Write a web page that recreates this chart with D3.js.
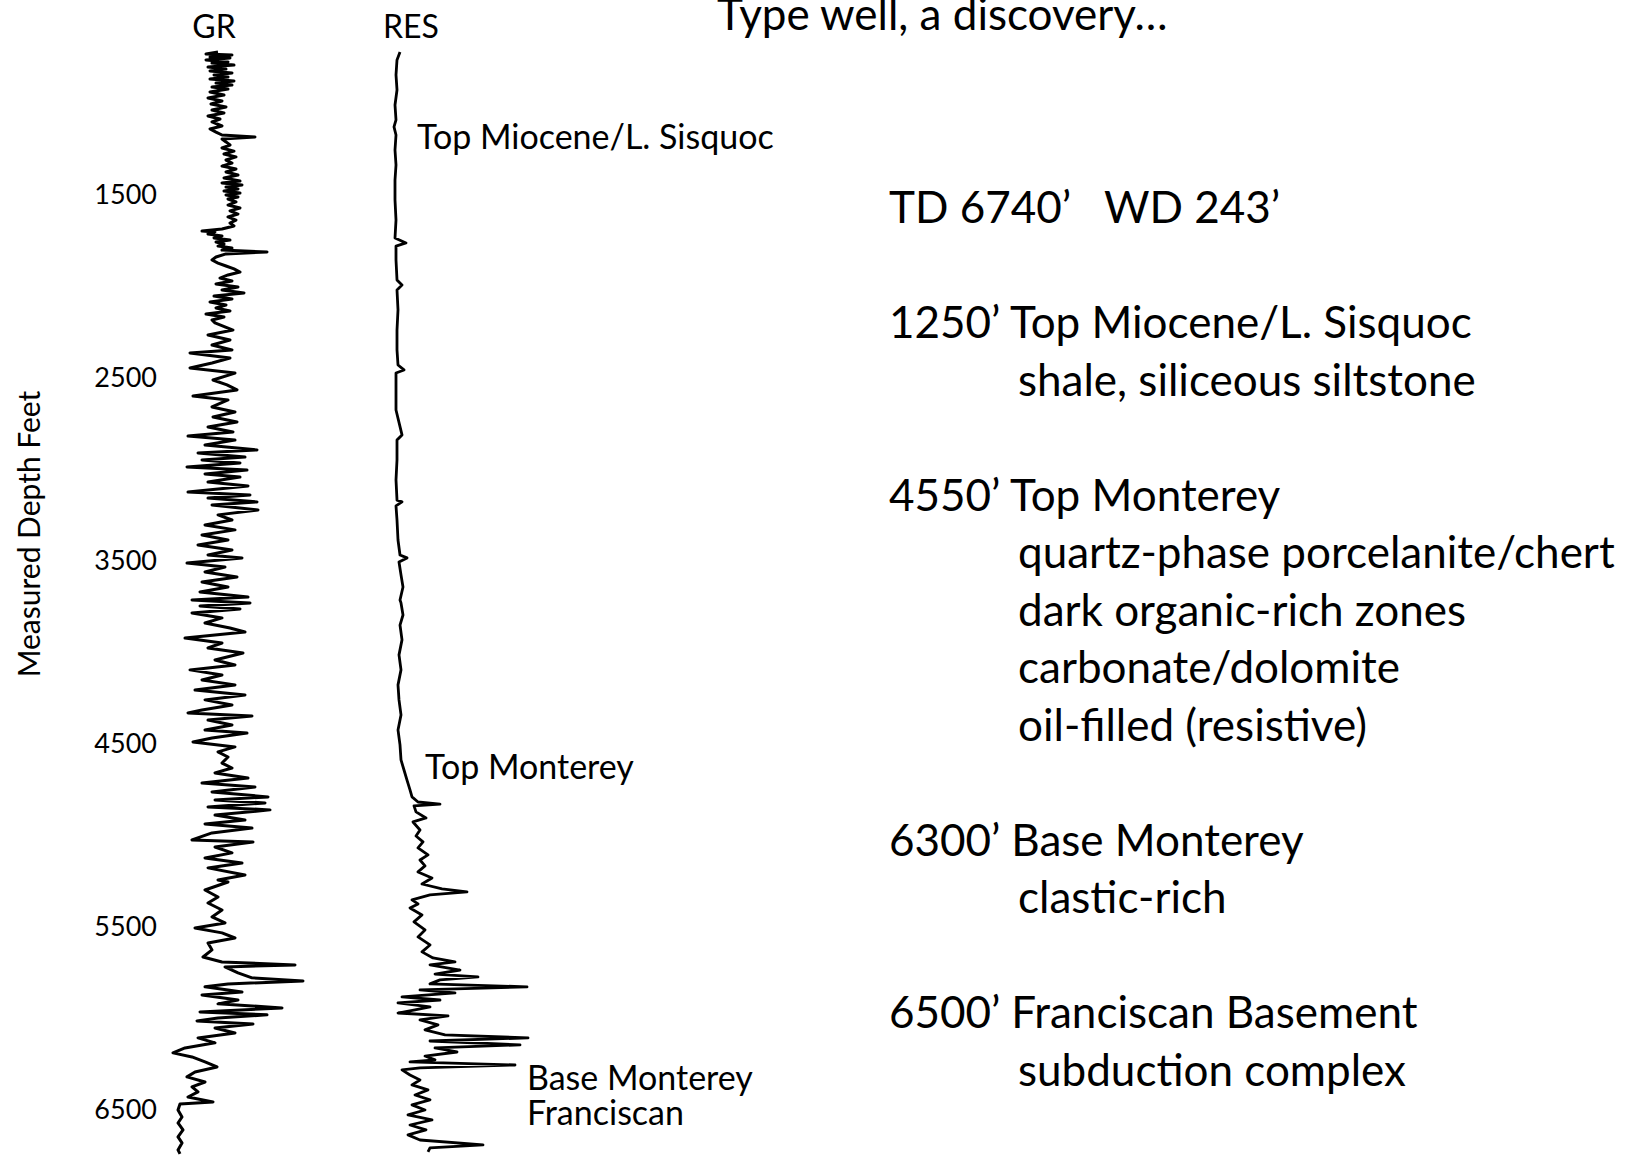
<!DOCTYPE html>
<html>
<head>
<meta charset="utf-8">
<script src="https://cdn.jsdelivr.net/npm/d3@7"></script>
<style>
  body { margin: 0; background: #fff; }
  svg { display: block; font-family: Lato, "Open Sans", sans-serif; }
  text { fill: #000; }
</style>
</head>
<body>
<div id="chart"></div>
<script>
/* Type well log: GR and RES vs measured depth */

const width = 1642, height = 1160;

// gamma ray curve (depth ft, API)
const grDepth = [719,730,735,746,751,762,773,779,790,801,812,822,833,844,855,866,877,888,899,910,921,937,954,970,986,1003,1019,1036,1052,1068,1085,1101,1123,1139,1156,1172,1183,1194,1210,1227,1243,1260,1276,1292,1309,1325,1342,1358,1374,1391,1407,1424,1434,1445,1456,1467,1478,1489,1500,1511,1522,1538,1555,1571,1587,1604,1620,1637,1653,1669,1686,1697,1702,1713,1724,1735,1746,1757,1768,1779,1790,1801,1811,1822,1839,1855,1872,1888,1904,1921,1937,1954,1970,1986,2003,2019,2035,2052,2068,2085,2101,2117,2134,2150,2167,2183,
  2199,2238,2265,2292,2320,2347,2363,2391,2418,2445,2473,2511,2538,2565,2598,2620,2658,2686,2713,2740,2768,2795,2817,2839,2866,2893,2910,2932,2948,2964,2986,3003,3024,3041,3068,3090,3123,3139,3156,3177,3194,3221,3248,3276,3303,3330,3358,3385,3412,3440,3467,3483,3511,3533,3560,3587,3615,3642,3669,3697,
  3713,3729,3746,3762,3784,3811,3839,3866,3888,3921,3948,3975,4003,4041,4068,4095,4123,4150,4177,4205,4232,4259,4287,4314,4330,4347,4369,4396,4423,4440,4467,4489,4516,4543,4571,4604,4631,4658,4686,4713,4735,4762,4789,4806,4822,4844,4860,4888,4915,4937,4959,4986,5024,5035,5063,5095,5123,5150,5177,5216,5243,
  5254,5298,5336,5369,5407,5445,5478,5505,5532,5560,5587,5625,5664,5691,5707,5718,5751,5778,5795,5811,5827,5855,5871,5899,5920,5942,5964,5980,5997,6013,6030,6052,6079,6106,6133,6161,6188,6210,6237,6265,6292,6319,6347,6374,6401,6429,6456,6467,6500,6538,6571,6609,6647,6680,6718,6740];
const grApi = [58,46,72,50,70,46,68,52,74,48,66,50,72,54,68,50,74,56,72,52,68,50,64,48,62,51,66,52,64,48,60,52,62,50,56,62,95,62,66,70,62,74,64,76,66,72,62,76,66,78,64,80,62,82,66,78,64,80,66,78,68,76,68,80,70,78,68,76,70,74,62,42,55,48,62,54,70,56,64,58,72,62,107,66,56,52,58,66,74,80,68,60,72,56,78,62,84,54,72,50,66,56,70,46,64,52,
  55,73,48,70,52,72,30,70,52,30,75,53,67,77,33,68,52,75,53,77,48,73,28,75,45,97,38,85,42,80,27,87,45,80,48,88,28,90,48,97,52,98,58,72,45,75,42,68,38,72,48,82,27,65,45,77,42,68,40,88,
  32,90,40,80,32,62,45,70,85,25,62,48,83,55,75,30,62,42,75,35,85,45,72,42,28,92,48,72,45,87,52,33,75,58,68,62,72,55,88,42,95,52,108,55,105,48,110,55,85,45,92,52,32,93,55,72,45,82,48,85,58,
  68,45,58,48,62,52,65,35,62,75,48,52,43,62,135,65,78,92,143,68,45,82,42,78,58,122,40,107,58,37,93,55,75,38,55,25,13,32,45,57,35,27,45,32,38,28,53,20,18,22,18,23,18,22,18,20];

// resistivity curve (depth ft, ohm-m)
const resDepth = [719,762,844,926,1008,1090,1128,1172,1254,1336,1418,1527,1637,1735,1762,1779,1855,1964,1992,2019,2128,2238,2347,2429,2456,2473,2565,2675,2811,2839,2948,3057,3167,3177,3199,3276,3385,3467,3483,3505,3576,3642,3713,3729,3795,3850,3931,4013,4095,4177,4259,4341,4423,4505,4587,4642,4697,4751,4789,4817,4828,4838,4871,4904,4926,4970,5003,5035,5068,5106,5134,5166,5199,5232,5265,5292,5308,5325,5352,5374,5396,5434,5472,5516,5554,5598,5636,5669,5691,5707,5735,5757,5773,5789,5811,5827,5844,5860,5882,5899,5915,5937,5953,5970,5986,6008,6035,6062,6090,6106,6123,6144,6161,6183,6205,6226,6237,6254,6270,6281,6309,6336,6363,6390,6418,6445,6472,6500,6527,6554,6582,6609,6636,6664,6691,6707,6729];
const resOhm = [2.0,1.7,1.6,1.7,1.5,1.6,1.4,1.6,1.5,1.6,1.5,1.5,1.6,1.5,2.6,1.6,1.6,1.7,2.2,1.7,1.8,1.7,1.7,1.8,2.4,1.6,1.6,1.6,2.2,1.7,1.7,1.6,1.7,2.2,1.6,1.7,1.8,2.0,2.7,1.9,2.1,2.3,2.0,2.1,2.3,2.0,2.2,1.9,2.1,1.8,1.9,2.1,1.8,2.0,2.1,2.4,2.7,3.0,3.2,3.8,6.0,3.4,3.6,4.6,3.3,4.0,3.6,4.3,3.8,4.8,4.0,4.5,3.8,5.2,4.2,6.2,8.7,5.0,3.2,3.8,3.0,4.2,3.4,4.5,3.8,5.0,4.2,5.3,7.5,5.0,8.0,5.5,9.8,6.0,5.0,14.7,4.0,7.5,2.2,6.0,1.8,5.0,3.5,1.8,6.8,4.0,5.8,4.5,6.5,14.8,5.0,14.0,5.5,7.7,4.5,5.5,3.0,13.5,4.0,2.2,3.0,4.0,3.2,4.8,3.5,5.0,3.2,4.5,2.8,5.2,3.0,4.6,2.8,4.0,10.3,5.0,4.8];

const depthTicks = [1500, 2500, 3500, 4500, 5500, 6500];

// formation tops marked beside the RES track
const topNames = ["Top Miocene/L. Sisquoc", "Top Monterey", "Base Monterey", "Franciscan"];
const topDepths = [1250, 4550, 6300, 6500];

// summary text on the right
const summaryLines = [
  ["TD 6740’   WD 243’", 0],
  ["1250’ Top Miocene/L. Sisquoc", 0],
  ["shale, siliceous siltstone", 1],
  ["4550’ Top Monterey", 0],
  ["quartz-phase porcelanite/chert", 1],
  ["dark organic-rich zones", 1],
  ["carbonate/dolomite", 1],
  ["oil-filled (resistive)", 1],
  ["6300’ Base Monterey", 0],
  ["clastic-rich", 1],
  ["6500’ Franciscan Basement", 0],
  ["subduction complex", 1]
];
const summaryRows = [0, 2, 3, 5, 6, 7, 8, 9, 11, 12, 14, 15];

const svg = d3.select("#chart")
  .append("svg")
  .attr("width", width)
  .attr("height", height);

svg.append("rect").attr("width", width).attr("height", height).attr("fill", "#fff");

let y = d3.scaleLinear()
  .domain([1500, 6500])
  .range([195, 1110]);

let xGR = d3.scaleLinear()
  .domain([0, 150])
  .range([160, 310]);

let xRES = d3.scaleLinear()
  .domain([0, 15])
  .range([380, 530]);

// depth labels, no axis line or ticks
let axis = svg.append("g")
  .attr("transform", "translate(157,0)")
  .call(d3.axisLeft(y).tickValues(depthTicks).tickSize(0).tickPadding(0).tickFormat(d3.format("d")));
axis.select(".domain").remove();
axis.attr("font-family", null).attr("font-size", null);
axis.selectAll("text").style("font-size", "27px");

svg.append("text")
  .attr("transform", "translate(40,534) rotate(-90)")
  .attr("text-anchor", "middle")
  .style("font-size", "30px")
  .text("Measured Depth Feet");

// track headers
svg.append("text").attr("x", 214).attr("y", 38).attr("text-anchor", "middle")
  .style("font-size", "32px").text("GR");
svg.append("text").attr("x", 411).attr("y", 38).attr("text-anchor", "middle")
  .style("font-size", "32px").text("RES");

let grLine = d3.line()
  .x((d, i) => xGR(grApi[i]))
  .y(d => y(d));

let resLine = d3.line()
  .x((d, i) => xRES(resOhm[i]))
  .y(d => y(d));

svg.append("path")
  .datum(grDepth)
  .attr("d", grLine)
  .attr("fill", "none")
  .attr("stroke", "#000")
  .attr("stroke-width", 3)
  .attr("stroke-linejoin", "round");

svg.append("path")
  .datum(resDepth)
  .attr("d", resLine)
  .attr("fill", "none")
  .attr("stroke", "#000")
  .attr("stroke-width", 2.8)
  .attr("stroke-linejoin", "round");

// formation top labels
const topX = [417, 425, 527, 527];
const topDy = [0, 26, 17, 15];
svg.selectAll(".top-label")
  .data(topNames)
  .join("text")
  .attr("class", "top-label")
  .attr("x", (d, i) => topX[i])
  .attr("y", (d, i) => y(topDepths[i]) + topDy[i])
  .style("font-size", "34px")
  .text(d => d);

// title (cut by the top edge)
svg.append("text")
  .attr("x", 717)
  .attr("y", 30)
  .style("font-size", "44px")
  .text("Type well, a discovery…");

svg.selectAll(".summary")
  .data(summaryLines)
  .join("text")
  .attr("class", "summary")
  .attr("x", d => d[1] ? 1018 : 889)
  .attr("y", (d, i) => 223 + summaryRows[i] * 57.5)
  .style("font-size", "44px")
  .style("white-space", "pre")
  .text(d => d[0]);
</script>
</body>
</html>
